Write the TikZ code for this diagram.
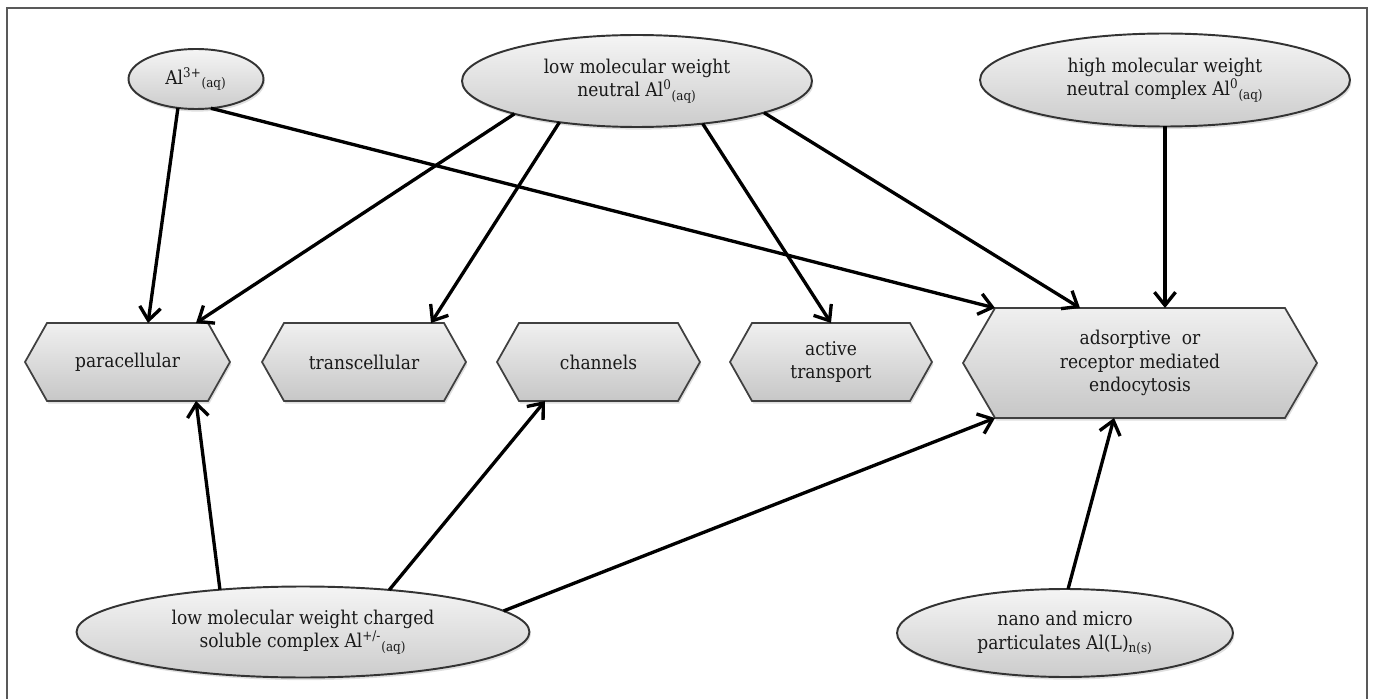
\documentclass[tikz,border=0pt]{standalone}
\usepackage{fontspec}
\setmainfont{DejaVu Serif Condensed}
\usetikzlibrary{shapes.geometric,arrows.meta,calc,backgrounds,shadows}
\newcommand\hexoutline[2]{%
  \draw[hexline] (#1.north west) -- (#1.north east) -- ($(#1.east)+(#2,0)$) -- (#1.south east) -- (#1.south west) -- ($(#1.west)-(#2,0)$) -- cycle;}
\begin{document}
\begin{tikzpicture}[x=0.02cm,y=-0.02cm,
  every node/.style={font=\fontsize{10.8}{13.2}\selectfont, text=black!90, align=center},
  oval/.style={ellipse, draw=black!80, line width=1.1pt, top color=white!96!black, bottom color=white!80!black,
    inner sep=0pt, outer sep=0pt, drop shadow={shadow xshift=0.8pt, shadow yshift=-1.5pt, opacity=0.25}},
  hexbox/.style={rectangle, inner sep=0pt, outer sep=0pt},
  hexline/.style={draw=black!75, line width=1pt, top color=white!94!black, bottom color=white!78!black,
    drop shadow={shadow xshift=0.8pt, shadow yshift=-1.5pt, opacity=0.25}},
  arr/.style={line width=1.9pt, black, -{Straight Barb[length=7.5pt,width=12pt,line width=1.9pt]}},
  frame/.style={line width=1.2pt, black!65}
]
\useasboundingbox (0,0) rectangle (1373,699);
\draw[frame] (7,720) -- (7,8) -- (1367,8) -- (1367,720);

% ellipses
\node[oval, minimum width=2.7cm, minimum height=1.2cm] (al3) at (196,79) {Al\textsuperscript{3+}\textsubscript{(aq)}};
\node[oval, minimum width=7.0cm, minimum height=1.84cm] (lmwn) at (637,81) {low molecular weight\\neutral Al\textsuperscript{0}\textsubscript{(aq)}};
\node[oval, minimum width=7.4cm, minimum height=1.86cm] (hmw) at (1165,80) {high molecular weight\\neutral complex Al\textsuperscript{0}\textsubscript{(aq)}};
\node[oval, minimum width=9.06cm, minimum height=1.82cm] (chg) at (303,632) {low molecular weight charged\\soluble complex Al\textsuperscript{+/-}\textsubscript{(aq)}};
\node[oval, minimum width=6.72cm, minimum height=1.76cm] (nano) at (1065,633) {nano and micro\\particulates Al(L)\textsubscript{n(s)}};

% hexagon boxes
\node[hexbox, minimum width=3.22cm, minimum height=1.56cm] (para) at (127.5,362) {};
\node[hexbox, minimum width=3.2cm, minimum height=1.56cm] (trans) at (364,362) {};
\node[hexbox, minimum width=3.18cm, minimum height=1.56cm] (chan) at (598.5,362) {};
\node[hexbox, minimum width=3.16cm, minimum height=1.56cm] (act) at (831,362) {};
\node[hexbox, minimum width=5.8cm, minimum height=2.2cm] (ads) at (1140,363) {};
\begin{pgfonlayer}{background}
\hexoutline{para}{22}
\hexoutline{trans}{22}
\hexoutline{chan}{22}
\hexoutline{act}{22}
\hexoutline{ads}{32}
\end{pgfonlayer}
\node at (para) {paracellular};
\node at (trans) {transcellular};
\node at (chan) {channels};
\node at (act) {active\\transport};
\node at (ads) {adsorptive~ or\\receptor mediated\\endocytosis};

% connectors
\draw[arr] (al3.-122) -- ($(para.north)+(20.5,0)$);
\draw[arr] (al3.-63) -- (ads.north west);
\draw[arr] (lmwn.-165) -- ($(para.north)+(68.5,0)$);
\draw[arr] (lmwn.-152) -- ($(trans.north)+(67,0)$);
\draw[arr] (lmwn.-33) -- (act.north);
\draw[arr] (lmwn.-14) -- ($(ads.north)+(-60,0)$);
\draw[arr] (hmw.south) -- (hmw.south |- ads.north);
\draw[arr] (chg.153) -- ($(para.south)+(68.5,0)$);
\draw[arr] (chg.26) -- ($(chan.south)+(-53.5,0)$);
\draw[arr] (chg.6) -- (ads.south west);
\draw[arr] (nano.86) -- ($(ads.south)+(-26,0)$);
\end{tikzpicture}
\end{document}
